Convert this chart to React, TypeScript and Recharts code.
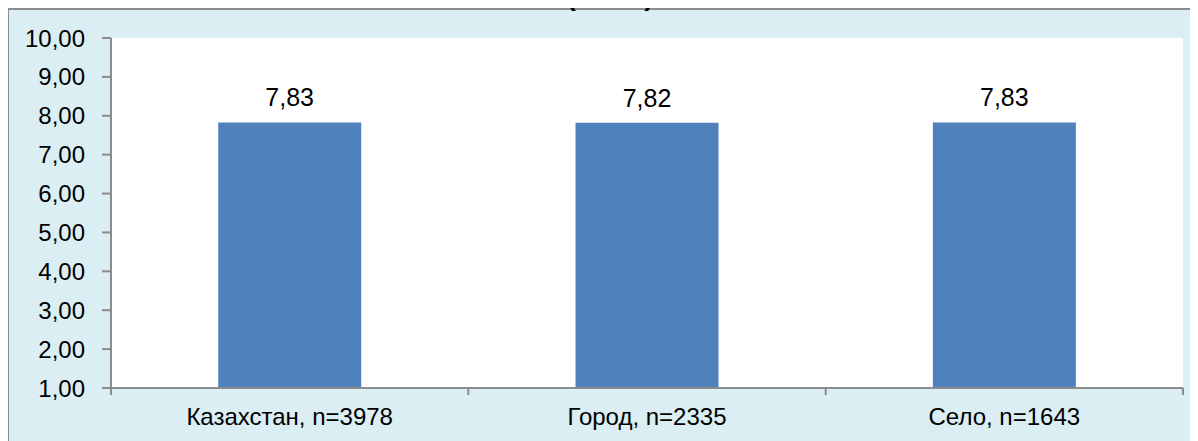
import { BarChart, Bar, XAxis, YAxis, CartesianGrid, LabelList } from "recharts";

const categories = ["Казахстан, n=3978", "Город, n=2335", "Село, n=1643"];
const scores = [7.83, 7.82, 7.83];
const yTicks = [1, 2, 3, 4, 5, 6, 7, 8, 9, 10];
const title = "(балл)";

const data = categories.map((name, i) => ({ name, value: scores[i] }));

const fmt = (v: number) => v.toFixed(2).replace(".", ",");

const AXIS = "#8c8c8c";
const LABEL_GAP = 20;
const EDGE_TICK = 7;

// category label plus the small tick marks on the band edges (Excel style)
function CategoryTick(props: any) {
  const { x, y, payload, index, visibleTicksCount } = props;
  const half = payload.offset || 0;
  const axisY = y - LABEL_GAP;
  const last = index === visibleTicksCount - 1;
  return (
    <g>
      <line x1={x - half} x2={x - half} y1={axisY} y2={axisY + EDGE_TICK} stroke={AXIS} strokeWidth={2} />
      {last && (
        <line x1={x + half} x2={x + half} y1={axisY} y2={axisY + EDGE_TICK} stroke={AXIS} strokeWidth={2} />
      )}
      <text x={x} y={y} dy="0.71em" textAnchor="middle" fill="#000" fontSize={24}>
        {payload.value}
      </text>
    </g>
  );
}

export default function App() {
  return (
    <div
      style={{
        position: "relative",
        left: -8,
        top: -8,
        width: 1198,
        height: 441,
        overflow: "hidden",
        fontFamily: "'Liberation Sans', Arial, sans-serif",
      }}
    >
      <div
        style={{
          position: "absolute",
          left: 7,
          top: 8,
          width: 1200,
          height: 440,
          background: "#dbeef3",
          borderLeft: "2px solid " + AXIS,
          borderTop: "2px solid " + AXIS,
        }}
      />
      <div
        style={{
          position: "absolute",
          left: 0,
          width: 1220,
          top: -18,
          textAlign: "center",
          fontSize: 28,
          lineHeight: 1,
          fontWeight: "bold",
          color: "#000",
        }}
      >
        {title}
      </div>
      <div style={{ position: "absolute", left: 0, top: 0 }}>
        <BarChart
          width={1198}
          height={441}
          data={data}
          margin={{ top: 38, right: 15, left: 0, bottom: 0 }}
          barCategoryGap="30%"
        >
          <CartesianGrid fill="#ffffff" horizontal={false} vertical={false} />
          <XAxis
            dataKey="name"
            height={53}
            tickLine={false}
            tickSize={0}
            tickMargin={LABEL_GAP}
            axisLine={{ stroke: AXIS, strokeWidth: 2 }}
            tick={<CategoryTick />}
            interval={0}
          />
          <YAxis
            width={111}
            domain={[1, 10]}
            ticks={yTicks}
            interval={0}
            tickFormatter={fmt}
            tickSize={9}
            tickMargin={17}
            axisLine={{ stroke: AXIS, strokeWidth: 2 }}
            tickLine={{ stroke: AXIS, strokeWidth: 2 }}
            tick={{ fill: "#000", fontSize: 24 }}
          />
          <Bar dataKey="value" fill="#4f81bd" isAnimationActive={false}>
            <LabelList
              dataKey="value"
              position="top"
              offset={16}
              formatter={(v: number) => fmt(v)}
              style={{ fill: "#000", fontSize: 25 }}
            />
          </Bar>
        </BarChart>
      </div>
    </div>
  );
}
